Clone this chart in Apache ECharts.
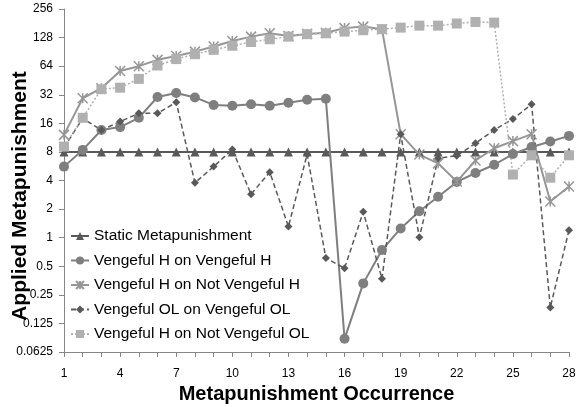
<!DOCTYPE html>
<html><head><meta charset="utf-8">
<script src="https://cdn.jsdelivr.net/npm/echarts@6/dist/echarts.min.js"></script>
<style>html,body{margin:0;padding:0;background:#fff}#c{width:576px;height:407px}</style>
</head><body><div id="c"></div>
<script>
const categories = ['1','2','3','4','5','6','7','8','9','10','11','12','13','14','15','16','17','18','19','20','21','22','23','24','25','26','27','28'];
const staticMeta = [8,8,8,8,8,8,8,8,8,8,8,8,8,8,8,8,8,8,8,8,8,8,8,8,8,8,8,8];
const vhOnVh = [5.6,8.4,13.6,14.6,18.3,30.3,33.4,30,25,24.5,25.4,24.5,26.3,28.3,29,0.086,0.33,0.74,1.25,1.9,2.7,3.86,4.8,5.86,7.6,9.0,10.3,11.8];
const vhOnNotVh = [12.1,29.4,37.5,56.9,64,74.6,82,91,103,118,131,142,133,140,144,161,167,157,12.3,7.5,6.06,3.9,6.5,8.75,10.4,12.3,2.4,3.46];
const volOnVol = [8.9,18,13.6,16.7,20.4,20.4,26.7,3.78,5.6,8.5,2.87,4.9,1.31,7.56,0.61,0.476,1.87,0.37,12.3,1.01,6.85,7.3,9.85,13.6,17.8,25.4,0.184,1.2];
const vhOnNotVol = [9.1,18.3,36.6,38,47,65,76,85.6,95,105,115,123,131,139,142,148,153,157,163,171,171,180,187,184,4.62,7.37,4.28,7.37];
const yTicks = [0.0625,0.125,0.25,0.5,1,2,4,8,16,32,64,128,256];
const yTitle = 'Applied Metapunishment';
const xTitle = 'Metapunishment Occurrence';

const chart = echarts.init(document.getElementById('c'));
const FONT = 'Liberation Sans';
const axisCol = '#868686';
chart.setOption({
  animation: false,
  textStyle: {fontFamily: FONT},
  grid: {left: 64, right: 7, top: 9, bottom: 55, outerBoundsMode: 'none', containLabel: false},
  graphic: [{
    type: 'text', x: 20, y: 196, rotation: Math.PI / 2,
    style: {text: yTitle, textAlign: 'center', textVerticalAlign: 'middle',
            font: 'bold 21px "Liberation Sans"', fill: '#000'}
  }],
  legend: {
    orient: 'vertical', left: 65, top: 223, padding: 5, itemGap: 8.5, itemWidth: 18, itemHeight: 10,
    textStyle: {fontSize: 15.5, color: '#000', fontFamily: FONT},
    data: ['Static Metapunishment','Vengeful H on Vengeful H','Vengeful H on Not Vengeful H','Vengeful OL on Vengeful OL','Vengeful H on Not Vengeful OL']
  },
  xAxis: {
    type: 'category', data: categories, boundaryGap: false,
    name: xTitle, nameLocation: 'middle', nameGap: 29,
    nameTextStyle: {fontSize: 20, fontWeight: 'bold', color: '#000', fontFamily: FONT},
    axisLine: {lineStyle: {color: axisCol}},
    axisTick: {show: true, interval: 0, alignWithLabel: true, length: 5, lineStyle: {color: axisCol}},
    axisLabel: {interval: 2, fontSize: 12, color: '#000', margin: 16}
  },
  yAxis: {
    type: 'log', logBase: 2, min: 0.0625, max: 256, interval: 1,
    axisLine: {show: true, lineStyle: {color: axisCol}},
    axisTick: {show: true, length: 5, lineStyle: {color: axisCol}},
    splitLine: {show: false},
    axisLabel: {fontSize: 12, color: '#000', margin: 11, formatter: v => {
      let best = yTicks[0];
      yTicks.forEach(t => { if (Math.abs(Math.log2(t) - Math.log2(v)) < Math.abs(Math.log2(best) - Math.log2(v))) best = t; });
      return String(best);
    }}
  },
  series: [
    {name: 'Static Metapunishment', type: 'line', data: staticMeta, symbol: 'triangle', symbolSize: 9,
     lineStyle: {color: '#595959', width: 2}, itemStyle: {color: '#595959'}},
    {name: 'Vengeful H on Vengeful H', type: 'line', data: vhOnVh, symbol: 'circle', symbolSize: 10,
     lineStyle: {color: '#7f7f7f', width: 2}, itemStyle: {color: '#7f7f7f'}},
    {name: 'Vengeful H on Not Vengeful H', type: 'line', data: vhOnNotVh,
     symbol: 'path://M0,0L10,10M10,0L0,10M5,0L5,10', symbolSize: 10,
     lineStyle: {color: '#969696', width: 2}, itemStyle: {color: 'none', borderColor: '#969696', borderWidth: 1.5}},
    {name: 'Vengeful OL on Vengeful OL', type: 'line', data: volOnVol, symbol: 'diamond', symbolSize: 8,
     lineStyle: {color: '#595959', width: 1.5, type: [5,3]}, itemStyle: {color: '#595959'}},
    {name: 'Vengeful H on Not Vengeful OL', type: 'line', data: vhOnNotVol, symbol: 'rect', symbolSize: 10,
     lineStyle: {color: '#b0b0b0', width: 1.5, type: [2,2]}, itemStyle: {color: '#b0b0b0'}}
  ]
});
</script></body></html>
